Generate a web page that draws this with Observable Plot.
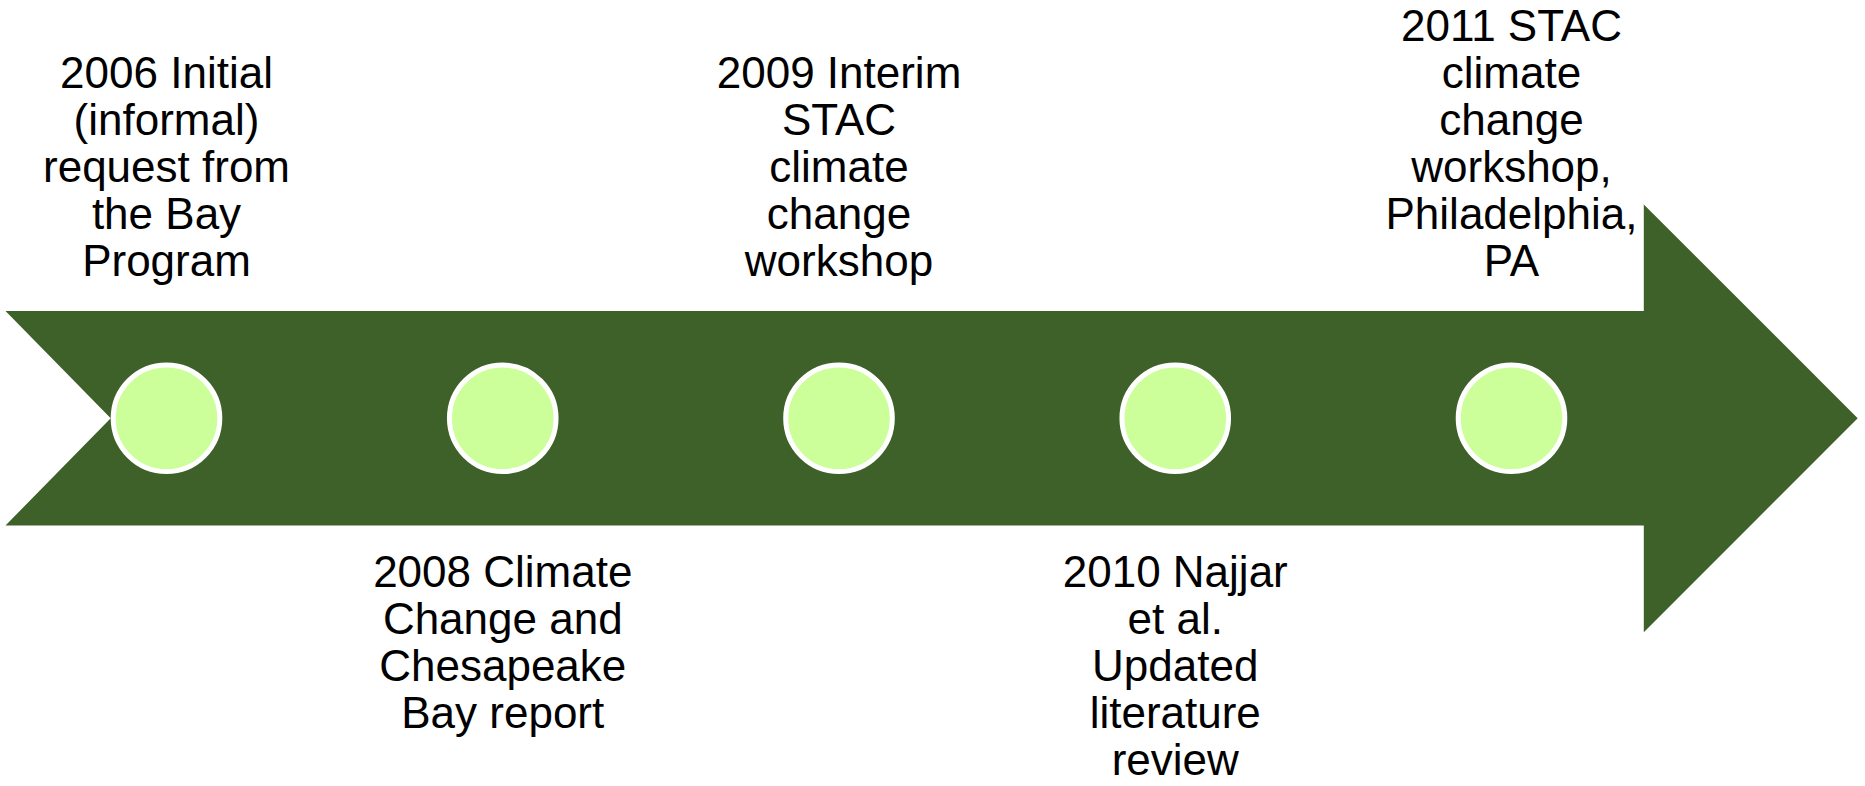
<!DOCTYPE html>
<html>
<head>
<meta charset="utf-8">
<script src="https://cdn.jsdelivr.net/npm/d3@7"></script>
<script src="https://cdn.jsdelivr.net/npm/@observablehq/plot@0.6"></script>
<style>
  html, body { margin: 0; padding: 0; background: #ffffff; }
  #chart svg { display: block; }
</style>
</head>
<body>
<div id="chart"></div>
<script>
// ---- data ----
const years = ["2006", "2008", "2009", "2010", "2011"];
const descriptions = [
  "Initial\n(informal)\nrequest from\nthe Bay\nProgram",
  "Climate\nChange and\nChesapeake\nBay report",
  "Interim\nSTAC\nclimate\nchange\nworkshop",
  "Najjar\net al.\nUpdated\nliterature\nreview",
  "STAC\nclimate\nchange\nworkshop,\nPhiladelphia,\nPA"
];
const sides = ["above", "below", "above", "below", "above"];

// ---- layout ----
const W = 1865, H = 786;
const step = 336.25, firstX = 166;           // px spacing of events
const axisY = 417.8;                          // arrow centre line (px)
const bodyHalf = 107.2, headHalf = 213.9;     // half heights (px)
const unit = px => (px - firstX) / step;      // px -> event-index units
const leftX = unit(5), notchX = unit(5 + bodyHalf - 2), headX = unit(1643.3), tipX = unit(1643.3 + headHalf);

const arrow = [
  {x: leftX, y: axisY - bodyHalf},
  {x: headX, y: axisY - bodyHalf},
  {x: headX, y: axisY - headHalf},
  {x: tipX, y: axisY},
  {x: headX, y: axisY + headHalf},
  {x: headX, y: axisY + bodyHalf},
  {x: leftX, y: axisY + bodyHalf},
  {x: notchX, y: axisY}
];

const events = years.map((yr, i) => ({i, year: yr, text: yr + " " + descriptions[i], side: sides[i]}));

const lineStep = 47;
const topLastBaseline = 275, bottomFirstBaseline = 586.7;
const lines = [];
events.forEach(e => {
  const ls = e.text.split("\n");
  ls.forEach((t, k) => {
    const y = e.side === "above"
      ? topLastBaseline - (ls.length - 1 - k) * lineStep
      : bottomFirstBaseline + k * lineStep;
    lines.push({i: e.i, t, y});
  });
});

const FONT = "'Liberation Sans', Arial, Helvetica, sans-serif";
const chart = Plot.plot({
  width: W,
  height: H,
  margin: 0,
  style: {background: "#ffffff", fontFamily: FONT},
  x: {domain: [unit(0), unit(W)], axis: null},
  y: {domain: [0, H], reverse: true, axis: null},
  marks: [
    Plot.line(arrow, {x: "x", y: "y", curve: "linear-closed", fill: "#3e6129", stroke: "none"}),
    Plot.dot(events, {x: "i", y: () => axisY, r: 53.3, fill: "#ccff99", stroke: "#ffffff", strokeWidth: 5}),
    Plot.text(lines, {x: "i", y: "y", text: "t", lineAnchor: "bottom", fontSize: 44, fontFamily: FONT, fill: "#000000", textAnchor: "middle"})
  ]
});
document.getElementById("chart").appendChild(chart);
</script>
</body>
</html>
